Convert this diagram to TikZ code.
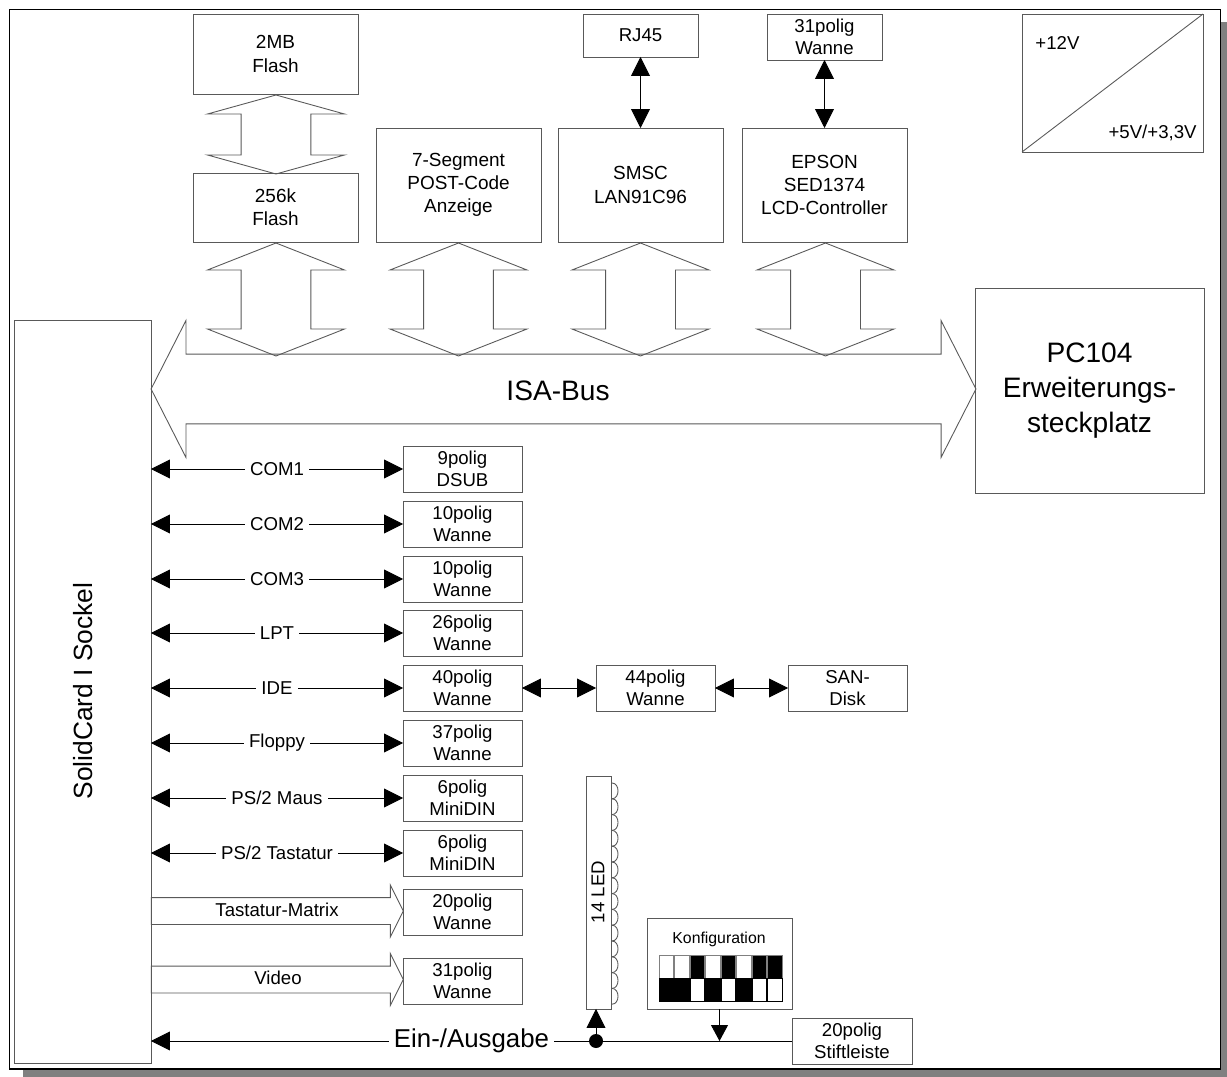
\documentclass[tikz,border=0pt]{standalone}
\usepackage{fontspec}
\setmainfont{Liberation Sans}
\usetikzlibrary{arrows.meta,shapes.arrows}
\definecolor{linegray}{gray}{0.35}
\definecolor{shadowgray}{gray}{0.5}
\begin{document}
\begin{tikzpicture}[x=0.02cm, y=-0.02cm, line width=0.5pt,
    >={Triangle[length=0.38cm, width=0.38cm]},
    frame/.style={draw=black, fill=white, line width=0.9pt},
    bigbox/.style={draw=linegray, minimum width=3.3cm, outer sep=0pt, inner sep=0pt, align=center, font=\fontsize{10.8}{13.2}\selectfont},
    conbox/.style={draw=linegray, minimum width=2.38cm, minimum height=0.92cm, outer sep=0pt, inner sep=0pt, align=center, font=\fontsize{10.6}{12.4}\selectfont},
    topbox/.style={conbox, minimum width=2.3cm},
    plain/.style={inner sep=0pt, align=center, font=\fontsize{10.6}{12.4}\selectfont},
    lbl/.style={plain, fill=white, inner xsep=3pt, inner ysep=1pt},
    vbus/.style={double arrow, draw=linegray, rotate=90, inner xsep=0pt, inner ysep=0.69cm, outer sep=0pt, minimum height=2.26cm, double arrow head extend=0.67cm, double arrow tip angle=137},
    hbus/.style={single arrow, draw=linegray, inner xsep=0pt, inner ysep=0.26cm, outer sep=0pt, minimum height=5.04cm, single arrow head extend=0.25cm, single arrow tip angle=127}]

    \useasboundingbox (0,0) rectangle (1227,1077);

    % === frame with shadow ===
    \fill[shadowgray] (23,22) rectangle (1227,1077);
    \draw[frame] (9.5,9.5) rectangle (1220.5,1069);

    % === top row ===
    \node[bigbox, minimum height=1.6cm]  (flash2) at (275.5,54)  {2MB\\Flash};
    \node[bigbox, minimum height=1.38cm] (flash1) at (275.5,207.5) {256k\\Flash};
    \node[bigbox, minimum height=2.28cm] (post)   at (458.5,185) {7-Segment\\POST-Code\\Anzeige};
    \node[bigbox, minimum height=2.28cm] (smsc)   at (640.5,185) {SMSC\\LAN91C96};
    \node[bigbox, minimum height=2.28cm] (epson)  at (824.5,185) {EPSON\\SED1374\\LCD-Controller};
    \node[topbox, minimum height=0.86cm] (rj)     at (640.5,35.5) {RJ45};
    \node[topbox]                        (lcdcon) at (824.5,37)  {31polig\\Wanne};

    % === power supply ===
    \node[draw=linegray, minimum width=3.62cm, minimum height=2.76cm, inner sep=0pt, outer sep=0pt] (power) at (1112.5,83) {};
    \draw[draw=linegray] (power.south west) -- (power.north east);
    \node[plain, anchor=west] (volt12) at (1035,43)  {+12V};
    \node[plain, anchor=east] (volt5)  at (1197,133) {+5V/+3,3V};

    % === bus ===
    \node[draw=linegray, minimum width=2.74cm, minimum height=14.88cm, inner sep=0pt, outer sep=0pt] (sockel) at (82.5,692) {};
    \node[plain, rotate=90, font=\fontsize{15}{18}\selectfont] (sockeltxt) at (83,691) {SolidCard I Sockel};
    \node[draw=linegray, minimum width=4.58cm, minimum height=4.1cm, inner sep=0pt, outer sep=0pt, align=center, font=\fontsize{16}{20}\selectfont] (pc104) at (1089.5,390.5) {PC104\\Erweiterungs-\\steckplatz};
    \node[double arrow, draw=linegray, inner xsep=0pt, inner ysep=0.69cm, outer sep=0pt, minimum height=16.5cm, double arrow head extend=0.67cm, double arrow tip angle=126] (isa) at (563.5,389) {};
    \node[plain, font=\fontsize{16}{20}\selectfont] (isatxt) at (558,391) {ISA-Bus};

    % === block arrows ===
    \node[vbus, minimum height=1.58cm, double arrow tip angle=149] (busflash) at (276,134.5) {};
    \node[vbus] (bus256)   at (276,299.5) {};
    \node[vbus] (busseg)   at (458.5,299.5) {};
    \node[vbus] (bussmsc)  at (640.5,299.5) {};
    \node[vbus] (busepson) at (825.5,299.5) {};

    % === connectors ===
    \node[conbox] (com1)   at (462.5,469) {9polig\\DSUB};
    \node[conbox] (com2)   at (462.5,524) {10polig\\Wanne};
    \node[conbox] (com3)   at (462.5,579) {10polig\\Wanne};
    \node[conbox] (lpt)    at (462.5,633) {26polig\\Wanne};
    \node[conbox] (ide)    at (462.5,688) {40polig\\Wanne};
    \node[conbox] (floppy) at (462.5,743) {37polig\\Wanne};
    \node[conbox] (maus)   at (462.5,798) {6polig\\MiniDIN};
    \node[conbox] (tast)   at (462.5,853) {6polig\\MiniDIN};
    \node[conbox] (matrix) at (462.5,912) {20polig\\Wanne};
    \node[conbox] (video)  at (462.5,981) {31polig\\Wanne};
    \node[conbox] (ide44)  at (655.5,688) {44polig\\Wanne};
    \node[conbox] (san)    at (847.5,688) {SAN-\\Disk};
    \node[conbox, minimum width=2.4cm] (stift) at (852,1041) {20polig\\Stiftleiste};

    % === arrows left ===
    \draw[<->] (sockel.east |- com1.west) -- node[lbl] (lblcom1) {COM1} (com1.west);
    \draw[<->] (sockel.east |- com2.west) -- node[lbl] (lblcom2) {COM2} (com2.west);
    \draw[<->] (sockel.east |- com3.west) -- node[lbl] (lblcom3) {COM3} (com3.west);
    \draw[<->] (sockel.east |- lpt.west) -- node[lbl] (lbllpt) {LPT} (lpt.west);
    \draw[<->] (sockel.east |- ide.west) -- node[lbl] (lblide) {IDE} (ide.west);
    \draw[<->] (sockel.east |- floppy.west) -- node[lbl] (lblfloppy) {Floppy} (floppy.west);
    \draw[<->] (sockel.east |- maus.west) -- node[lbl] (lblmaus) {PS/2 Maus} (maus.west);
    \draw[<->] (sockel.east |- tast.west) -- node[lbl] (lbltast) {PS/2 Tastatur} (tast.west);

    % === arrows top ===
    \draw[<->] (rj) -- (smsc);
    \draw[<->] (lcdcon) -- (epson);
    \draw[<->] (ide) -- (ide44);
    \draw[<->] (ide44) -- (san);

    % === outlined arrows ===
    \node[hbus] (busmatrix) at (274,911) {};
    \node[plain] (lblmatrix) at (277,910) {Tastatur-Matrix};
    \node[hbus] (busvideo)  at (274,979.5) {};
    \node[plain] (lblvideo) at (278,978) {Video};

    % === LED ===
    \node[draw=linegray, minimum width=0.5cm, minimum height=4.66cm, inner sep=0pt, outer sep=0pt] (led) at (599,892.5) {};
    \node[plain, rotate=90] (ledtxt) at (598,892) {14 LED};
    \foreach \i in {0,...,13}
      \draw[draw=linegray] (612,{783+15.8*\i}) to[bend left=90, looseness=1.3] (612,{783+15.8*(\i+1)});

    % === configuration ===
    \node[draw=linegray, minimum width=2.9cm, minimum height=1.82cm, inner sep=0pt, outer sep=0pt] (konf) at (719.5,963.5) {};
    \node[plain, font=\fontsize{9}{11}\selectfont] (konftxt) at (719,939) {Konfiguration};
    \foreach \i/\ctop/\cbot in {0/white/black, 1/white/black, 2/black/white, 3/white/black, 4/black/white, 5/white/black, 6/black/white, 7/black/white} {
      \draw[fill=\ctop, draw=gray, line width=0.4pt] ({659+15.5*\i},955.5) rectangle ({673.5+15.5*\i},978.5);
      \draw[fill=\cbot, line width=0.4pt] ({659+15.5*\i},978.5) rectangle ({673.5+15.5*\i},1001.5);
    }

    % === bottom line ===
    \draw[->] (stift.west) -- node[lbl, font=\fontsize{14.7}{18}\selectfont] (lblio) {Ein-/Ausgabe} (sockel.east |- stift.west);
    \node[fill=black, circle, minimum size=0.28cm, inner sep=0pt] (dot) at (596,1041) {};
    \draw[->] (dot) -- (dot |- led.south);
    \coordinate (konfhit) at (konf.south |- stift.west);
    \draw[->, >={Triangle[length=0.32cm, width=0.34cm]}] (konf.south) -- (konfhit);

  \end{tikzpicture}
\end{document}
